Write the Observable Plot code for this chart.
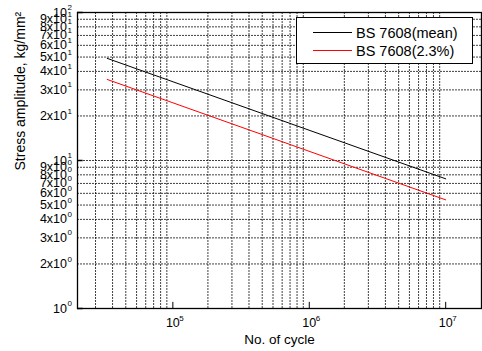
<!DOCTYPE html>
<html>
<head>
<meta charset="utf-8">
<script src="https://cdn.jsdelivr.net/npm/d3@7"></script>
<script src="https://cdn.jsdelivr.net/npm/@observablehq/plot@0.6"></script>
<style>
  html, body { margin: 0; padding: 0; background: #fff; }
  #wrap { position: relative; width: 482px; height: 351px; font-family: "Liberation Sans", Arial, sans-serif; }
  #wrap svg { display: block; }
  #legend { position: absolute; left: 296px; top: 17px; width: 177px; height: 47px; border: 1px solid #000; background: #fff; box-sizing: border-box; font-size: 14.5px; color: #000; }
  .row { position: absolute; left: 0; height: 17px; display: flex; align-items: center; white-space: nowrap; }
  .swatch { display: inline-block; width: 39px; height: 0; border-top: 1px solid #000; margin-left: 16px; margin-right: 4px; }
</style>
</head>
<body>
<div id="wrap"></div>
<script>
// Data
const cycles = [3.3e4, 1e7];
const meanStress = [49.0, 7.52];
const lowerStress = [35.3, 5.42];
const seriesNames = ["BS 7608(mean)", "BS 7608(2.3%)"];
const seriesColors = ["#000000", "#ff0000"];

// Axis ticks
const xTickValues = [1e5, 1e6, 1e7];
const xTickExponents = ["5", "6", "7"];
const yTickMantissas = [1, 2, 3, 4, 5, 6, 7, 8, 9];
const yTickDecades = [0, 1];
const gridMantissas = [1, 2, 3, 4, 5, 6, 7, 8, 9];
const xGridDecades = [4, 5, 6, 7];

const yTicks = [];
for (const e of yTickDecades) for (const m of yTickMantissas) yTicks.push({v: m * 10 ** e, base: (m === 1 ? "" : m + "x") + "10", exp: String(e)});
yTicks.push({v: 100, base: "10", exp: "2"});

const xGrid = [];
for (const e of xGridDecades) for (const m of gridMantissas) { const v = m * 10 ** e; if (v >= 3e4 && v <= 1e7) xGrid.push(v); }
const yGrid = yTicks.map(d => d.v).filter(v => v > 1 && v < 100);

const meanData = cycles.map((n, i) => ({n, s: meanStress[i]}));
const lowerData = cycles.map((n, i) => ({n, s: lowerStress[i]}));

const gridStyle = {stroke: "#000", strokeWidth: 1, strokeDasharray: "2,1", strokeOpacity: 0.75};

const chart = Plot.plot({
  width: 482, height: 351,
  marginLeft: 77, marginRight: 1, marginTop: 12, marginBottom: 43,
  x: {type: "log", domain: [2e4, 1.83e7], axis: null},
  y: {type: "log", domain: [1, 100], axis: null},
  style: {fontFamily: "'Liberation Sans', Arial, sans-serif", background: "#fff", color: "#000"},
  marks: [
    Plot.ruleX(xGrid, {x: d => d, dx: -6, ...gridStyle}),
    Plot.ruleY(yGrid, {y: d => d, ...gridStyle}),
    Plot.ruleX(xTickValues, {x: d => d, y1: 1, y2: 1.1, stroke: "#000"}),
    Plot.ruleY([1, 10, 100], {y: d => d, x1: 2e4, x2: 2.2e4, stroke: "#000", strokeWidth: 1.5}),
    Plot.line(meanData, {x: "n", y: "s", stroke: seriesColors[0], strokeWidth: 1}),
    Plot.line(lowerData, {x: "n", y: "s", stroke: seriesColors[1], strokeWidth: 1}),
    Plot.frame({stroke: "#000", strokeWidth: 1.3}),
    // x tick labels
    Plot.text(xTickValues, {x: d => d, frameAnchor: "bottom", text: () => "10", dy: 18, fontSize: 12.5, fill: "#000"}),
    Plot.text(xTickValues, {x: d => d, frameAnchor: "bottom", text: (d, i) => xTickExponents[i], dx: 6.5, dy: 12, textAnchor: "start", fontSize: 8, fill: "#000"}),
    // y tick labels
    Plot.text(yTicks, {y: "v", frameAnchor: "left", text: "base", textAnchor: "end", dx: -10.5, fontSize: 12.5, fill: "#000"}),
    Plot.text(yTicks, {y: "v", frameAnchor: "left", text: "exp", textAnchor: "start", dx: -10, dy: -5, fontSize: 8, fill: "#000"}),
    // axis titles
    Plot.text(["No. of cycle"], {frameAnchor: "bottom", text: d => d, dy: 35, fontSize: 13.5, fill: "#000"}),
    Plot.text(["Stress amplitude, kg/mm\u00b2"], {frameAnchor: "left", text: d => d, rotate: -90, dx: -57, dy: 10, fontSize: 14, fill: "#000"})
  ]
});

const wrap = document.getElementById("wrap");
wrap.appendChild(chart);

const legend = document.createElement("div");
legend.id = "legend";
seriesNames.forEach((name, i) => {
  const row = document.createElement("div");
  row.className = "row";
  row.style.top = (i === 0 ? 6 : 24) + "px";
  const sw = document.createElement("span");
  sw.className = "swatch";
  sw.style.borderTopColor = seriesColors[i];
  const label = document.createElement("span");
  label.textContent = name;
  row.appendChild(sw);
  row.appendChild(label);
  legend.appendChild(row);
});
wrap.appendChild(legend);
</script>
</body>
</html>
